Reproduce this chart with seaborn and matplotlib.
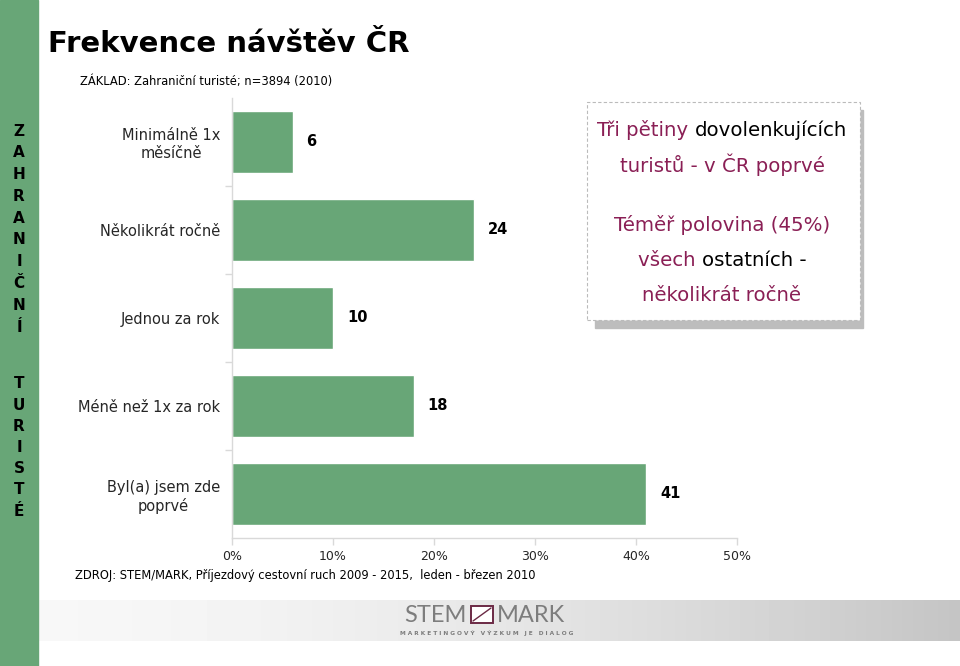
import numpy as np
import matplotlib
matplotlib.use("Agg")
import matplotlib.pyplot as plt
import seaborn as sns
import pandas as pd
from matplotlib.patches import Rectangle

categories = ["Minimálně 1x\nměsíčně", "Několikrát ročně", "Jednou za rok",
              "Méně než 1x za rok", "Byl(a) jsem zde\npoprvé"]
values = [6, 24, 10, 18, 41]
x_ticks = [0, 10, 20, 30, 40, 50]
x_tick_labels = ["0%", "10%", "20%", "30%", "40%", "50%"]

title = "Frekvence návštěv ČR"
subtitle = "ZÁKLAD: Zahraniční turisté; n=3894 (2010)"
source = "ZDROJ: STEM/MARK, Příjezdový cestovní ruch 2009 - 2015,  leden - březen 2010"
side1 = "ZAHRANIČNÍ"
side2 = "TURISTÉ"

GREEN = "#68a677"
PURPLE = "#8a1f55"
GRAY = "#d9d9d9"

sns.set_theme(style="white")
plt.rcParams['font.family'] = ['DejaVu Sans']

W, H = 960, 666
fig = plt.figure(figsize=(W / 100, H / 100), dpi=100)
fig.patch.set_facecolor("white")

def fx(px):
    return px / W

def fy(py):
    return 1 - py / H

# bottom gradient band
band = fig.add_axes([fx(38), fy(641), fx(922), (641 - 600) / H])
grad = np.linspace(0, 1, 256) ** 1.6
grad = 0.97 - 0.20 * grad
band.imshow(np.tile(grad, (2, 1)), cmap="gray", vmin=0, vmax=1, aspect="auto",
            extent=[0, 1, 0, 1])
band.set_axis_off()

# main axes
ax = fig.add_axes([fx(232), fy(538), fx(737 - 232), (538 - 98) / H])
df = pd.DataFrame({"cat": categories, "val": values})
sns.barplot(data=df, y="cat", x="val", orient="h", color=GREEN, width=0.7,
            saturation=1, ax=ax)
ax.set_xlim(0, 50)
ax.set_ylim(4.5, -0.5)
ax.set_xlabel("")
ax.set_ylabel("")
for s in ["top", "right"]:
    ax.spines[s].set_visible(False)
for s in ["left", "bottom"]:
    ax.spines[s].set_color(GRAY)
    ax.spines[s].set_linewidth(1.0)
ax.set_xticks(x_ticks)
ax.set_xticklabels(x_tick_labels, fontsize=9)
ax.tick_params(axis="x", length=5, color=GRAY, width=1, pad=4, direction="out",
               bottom=True)
ax.set_yticks(range(len(categories)))
ax.set_yticklabels(categories, fontsize=10.5)
ax.tick_params(axis="y", length=0, pad=8.5)
ax.set_yticks([0.5, 1.5, 2.5, 3.5], minor=True)
ax.tick_params(axis="y", which="minor", length=5, color=GRAY, width=1, left=True)
for lab in ax.get_yticklabels():
    lab.set_multialignment("center")
    lab.set_horizontalalignment("right")

for i, v in enumerate(values):
    ax.annotate(f"{v}", xy=(v, i), xytext=(10, 0), textcoords="offset points",
                va="center", ha="left", fontsize=10.5, fontweight="bold", color="black")

# green side strip
fig.patches.append(Rectangle((0, 0), fx(38), 1, transform=fig.transFigure,
                             color=GREEN, zorder=5))
for k, ch in enumerate(side1):
    fig.text(fx(19), fy(131 + k * 21.8), ch, ha="center", va="center",
             fontsize=11, fontweight="heavy", color="black", zorder=6)
for k, ch in enumerate(side2):
    fig.text(fx(19), fy(384 + k * 21.2), ch, ha="center", va="center",
             fontsize=11, fontweight="heavy", color="black", zorder=6)

# title and subtitle
fig.text(fx(48), fy(44), title, ha="left", va="center", fontsize=21,
         fontweight="bold", color="black")
fig.text(fx(80), fy(82), subtitle, ha="left", va="center", fontsize=8.3,
         color="black")
fig.text(fx(75), fy(576), source, ha="left", va="center", fontsize=8.3,
         color="black")

# annotation box with shadow
fig.patches.append(Rectangle((fx(595), fy(328)), fx(268), (328 - 110) / H,
                             transform=fig.transFigure, color="#bdbdbd", zorder=2))
fig.patches.append(Rectangle((fx(587), fy(320)), fx(273), (320 - 102) / H,
                             transform=fig.transFigure, facecolor="white",
                             edgecolor="#bbbbbb", linestyle=(0, (3, 2)),
                             linewidth=0.8, zorder=3))

lines = [
    [("Tři pětiny ", PURPLE), ("dovolenkujících", "black")],
    [("turistů - v ČR poprvé", PURPLE)],
    [("Téměř polovina (45%)", PURPLE)],
    [("všech ", PURPLE), ("ostatních -", "black")],
    [("několikrát ročně", PURPLE)],
]
line_y = [130, 165, 225, 260, 295]
renderer = fig.canvas.get_renderer()
cx = 722
for parts, yy in zip(lines, line_y):
    texts = []
    widths = []
    for s, c in parts:
        t = fig.text(0, fy(yy), s, ha="left", va="center", fontsize=14.2,
                     color=c, zorder=4)
        bb = t.get_window_extent(renderer=renderer)
        texts.append(t)
        widths.append(bb.width)
    total = sum(widths)
    x0 = cx - total / 2
    for t, w in zip(texts, widths):
        t.set_x(fx(x0))
        x0 += w

# STEM/MARK logo
LOGO = "#7d7d7d"
fig.text(fx(467), fy(615), "STEM", ha="right", va="center", fontsize=17,
         family="Lato", fontweight="normal", color=LOGO, zorder=6)
fig.patches.append(Rectangle((fx(471), fy(623)), fx(22), 17 / H,
                             transform=fig.transFigure, facecolor="white",
                             edgecolor="#6b2a45", linewidth=1.4, zorder=6))
fig.lines.append(matplotlib.lines.Line2D([fx(473), fx(491)], [fy(621), fy(608)],
                                         transform=fig.transFigure,
                                         color="#6b2a45", linewidth=1.0, zorder=7))
fig.text(fx(497), fy(615), "MARK", ha="left", va="center", fontsize=17,
         family="Lato", fontweight="normal", color=LOGO, zorder=6)
fig.text(fx(487), fy(633), "M A R K E T I N G O V Ý   V Ý Z K U M   J E   D I A L O G",
         ha="center", va="center", fontsize=4.2, fontweight="bold", color=LOGO,
         zorder=6)

fig.savefig("out.png", dpi=100, facecolor="white")
